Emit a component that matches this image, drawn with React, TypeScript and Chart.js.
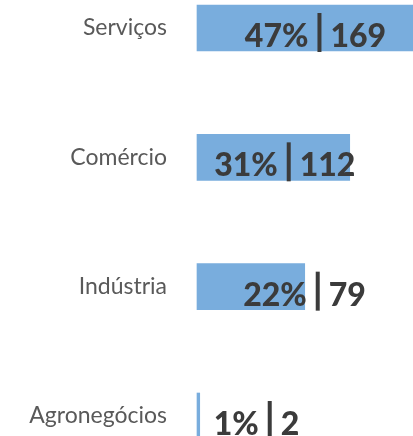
import React, { useEffect, useRef } from "react";
import { Chart, registerables } from "chart.js";

Chart.register(...registerables);

const categories = ["Serviços", "Comércio", "Indústria", "Agronegócios"];
const counts = [169, 112, 79, 2];
const percents = ["47%", "31%", "22%", "1%"];

const BAR_COLOR = "#79addd";
const TEXT_DARK = "#3b3b3b";

const valueLabelPlugin = {
  id: "valueLabels",
  afterDatasetsDraw(chart: any, _args: any, opts: any) {
    const ctx = chart.ctx;
    const meta = chart.getDatasetMeta(0);
    const offsets: number[] = opts.offsets || [];
    ctx.save();
    meta.data.forEach((bar: any, i: number) => {
      const sep = bar.x + (offsets[i] || 0);
      const y = bar.y;
      ctx.strokeStyle = TEXT_DARK;
      ctx.lineWidth = 4;
      ctx.beginPath();
      ctx.moveTo(sep, y - 15);
      ctx.lineTo(sep, y + 24);
      ctx.stroke();
      ctx.fillStyle = TEXT_DARK;
      ctx.font = "900 32px Lato";
      ctx.textBaseline = "alphabetic";
      ctx.textAlign = "right";
      ctx.fillText(percents[i], sep - 11, y + 19);
      ctx.textAlign = "left";
      ctx.fillText(String(counts[i]), sep + 11, y + 19);
    });
    ctx.restore();
  },
};

export default function App() {
  const ref = useRef<HTMLCanvasElement>(null);
  useEffect(() => {
    if (!ref.current) return;
    const chart = new Chart(ref.current, {
      type: "bar",
      data: {
        labels: categories,
        datasets: [
          {
            data: counts,
            backgroundColor: BAR_COLOR,
            barThickness: 46,
            clip: false as any,
          },
        ],
      },
      options: {
        indexAxis: "y",
        animation: false,
        responsive: false,
        layout: { padding: { top: 28, bottom: 20, left: 0, right: 0 } },
        plugins: {
          legend: { display: false },
          tooltip: { enabled: false },
          valueLabels: { offsets: [-108, -61, 13, 70] },
        } as any,
        scales: {
          x: {
            display: false,
            min: 0,
            max: 158.4,
          },
          y: {
            offset: false,
            grid: { display: false, drawTicks: false },
            border: { display: false },
            ticks: {
              color: "#595959",
              font: { family: "Lato", size: 23 },
              padding: 30,
            },
            afterFit(scale: any) {
              scale.width = 197;
              scale.paddingTop = 0;
              scale.paddingBottom = 0;
            },
          },
        },
      },
      plugins: [valueLabelPlugin],
    });
    return () => chart.destroy();
  }, []);
  return (
    <div style={{ position: "fixed", left: 0, top: 0, width: 413, height: 436, background: "#fff" }}>
      <canvas ref={ref} width={413} height={436} style={{ display: "block" }} />
    </div>
  );
}
